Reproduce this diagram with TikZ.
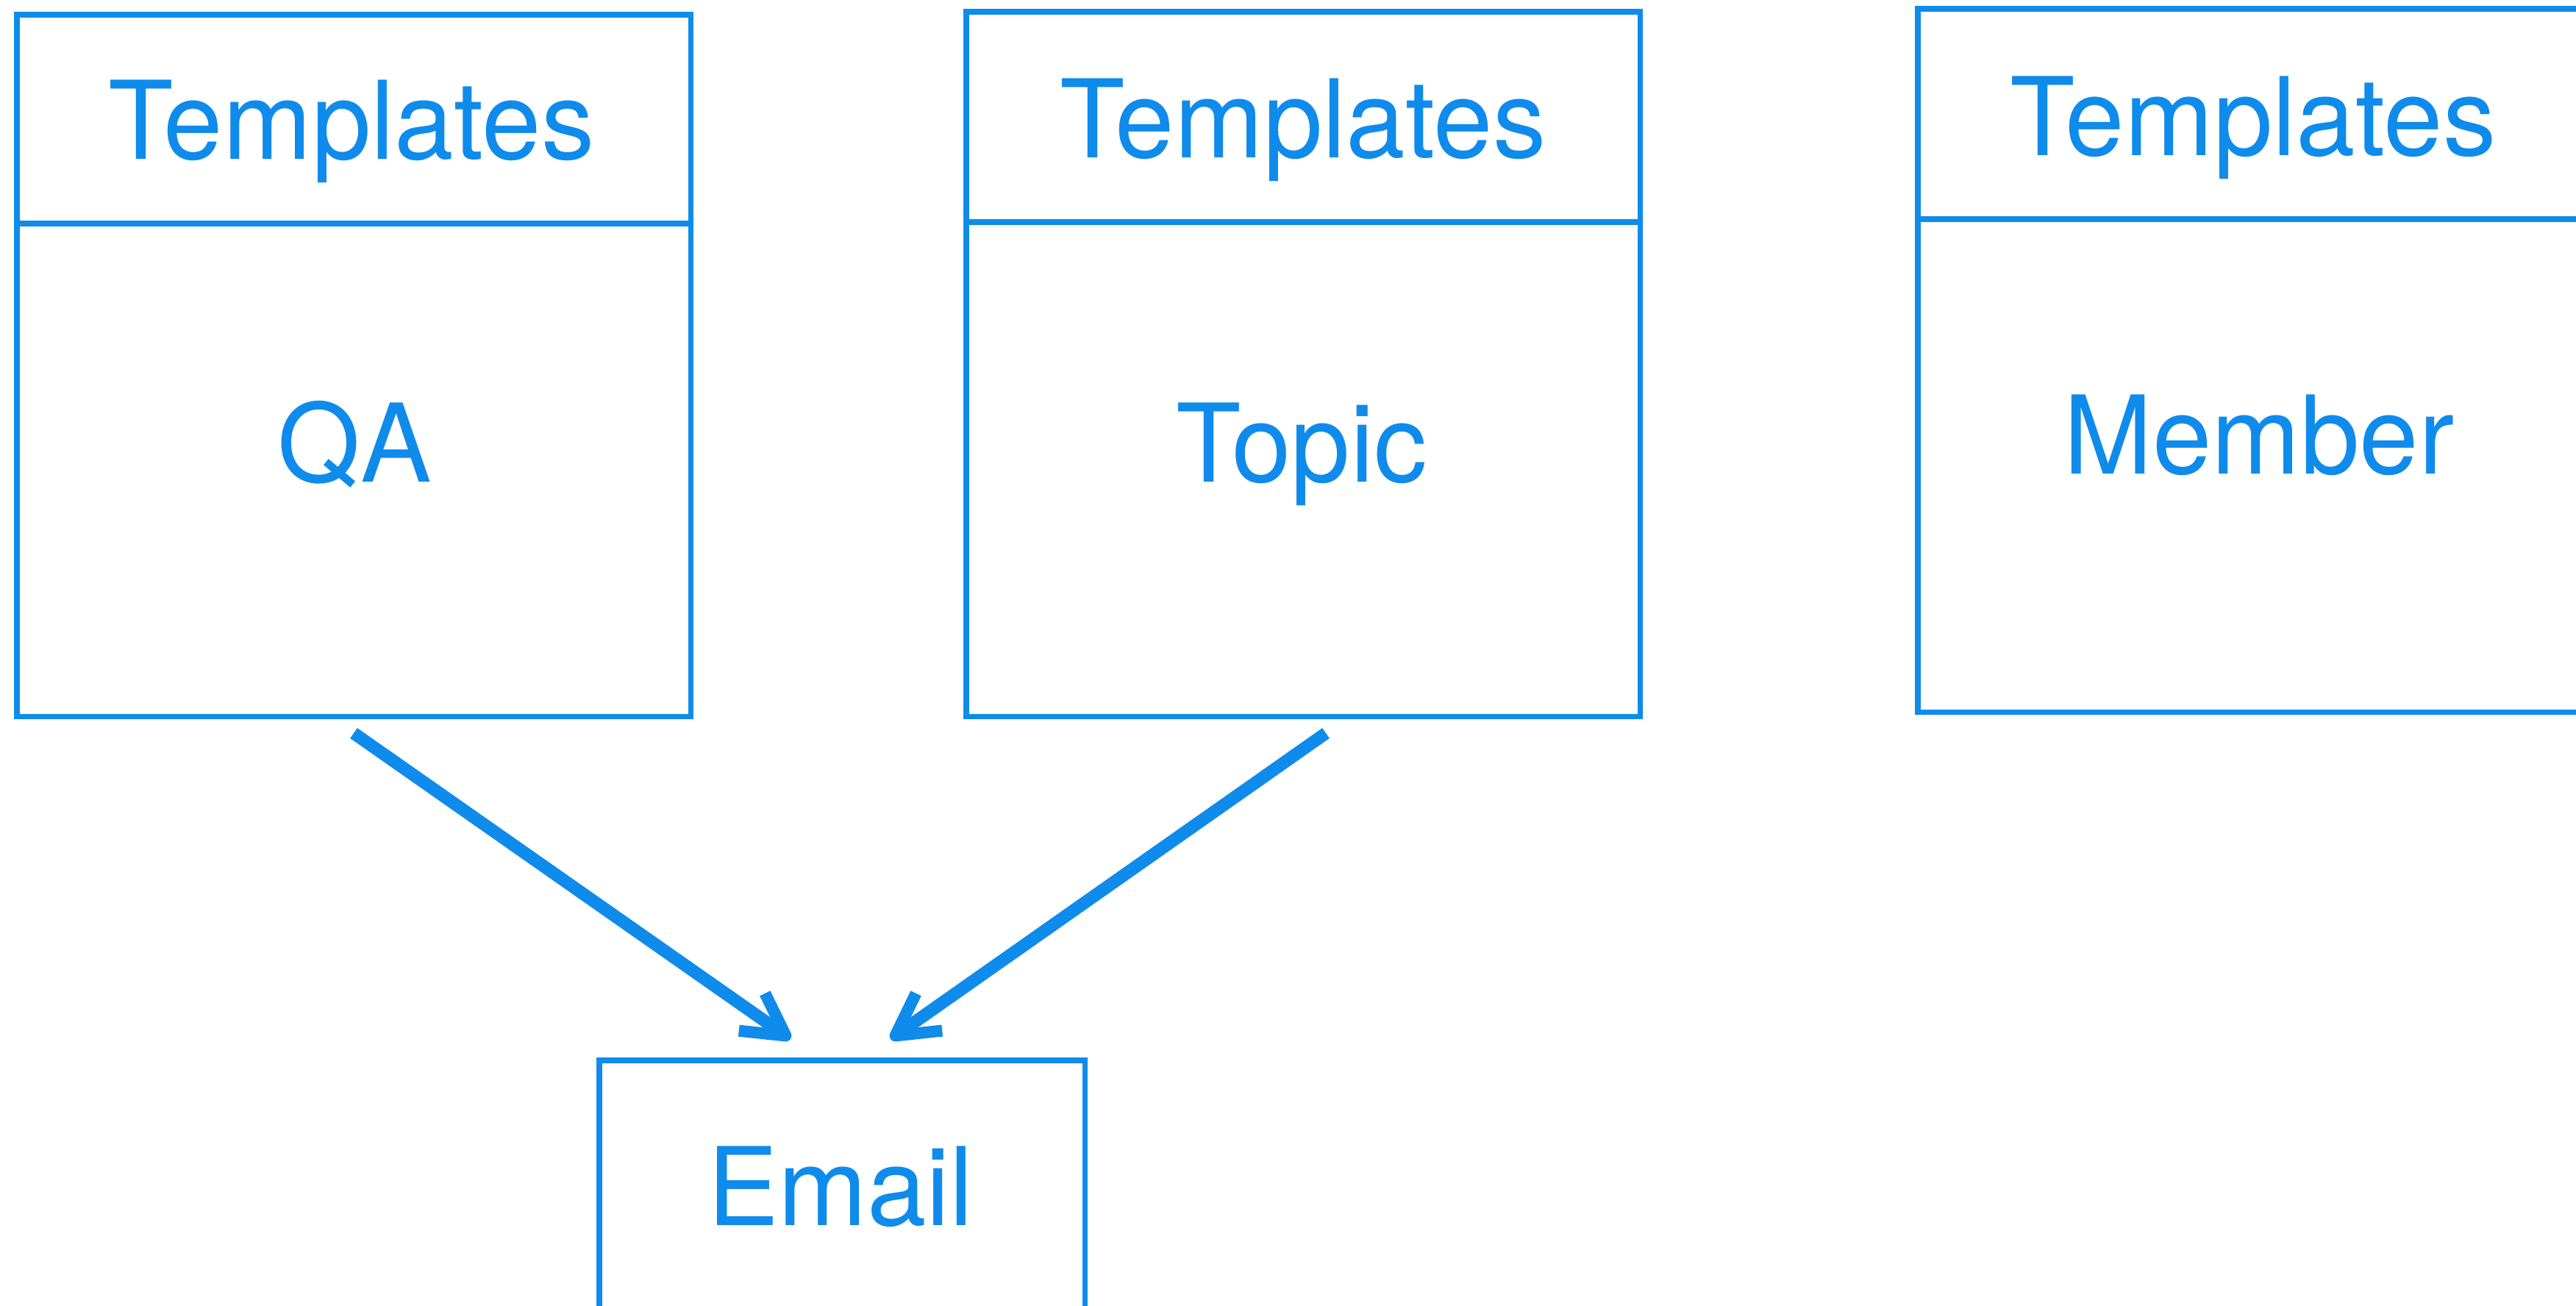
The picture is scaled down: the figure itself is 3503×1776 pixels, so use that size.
\documentclass[tikz,border=0pt]{standalone}
\usepackage{fontspec}
\setmainfont{TeX Gyre Heros}[FakeStretch=0.98]
\usetikzlibrary{arrows.meta}
\definecolor{ablue}{HTML}{0F8BEB}
\begin{document}
\begin{tikzpicture}[x=0.01cm,y=-0.01cm,
  boxpart/.style={draw=ablue, line width=0.075cm, rectangle, inner sep=0pt, outer sep=0pt, anchor=north west, minimum width=9.16cm},
  lbl/.style={text=ablue, font=\fontsize{42}{50}\selectfont, anchor=base, inner sep=0pt},
  conn/.style={draw=ablue, line width=0.17cm, line cap=butt,
    -{Straight Barb[length=0.56cm,width=0.62cm,line width=0.16cm,line cap=butt,line join=round]}}]
\useasboundingbox (0,0) rectangle (3503,1776);
\clip (0,0) rectangle (3503,1776);
% box 1 (QA)
\node[boxpart, minimum height=2.84cm] (qaHead) at (23,20) {};
\node[boxpart, minimum height=6.70cm] (qaBody) at (23,304) {};
\node[lbl] (qaT) at (478,217) {Templates};
\node[lbl] (qaN) at (482,655) {QA};
% box 2 (Topic)
\node[boxpart, minimum height=2.86cm] (tpHead) at (1314,16) {};
\node[boxpart, minimum height=6.72cm] (tpBody) at (1314,302) {};
\node[lbl] (tpT) at (1772,215) {Templates};
\node[lbl] (tpN) at (1770,655) {Topic};
% box 3 (Member)
\node[boxpart, minimum height=2.86cm] (mbHead) at (2608,12) {};
\node[boxpart, minimum height=6.70cm] (mbBody) at (2608,298) {};
\node[lbl] (mbT) at (3064,212) {Templates};
\node[lbl] (mbN) at (3072,644) {Member};
% email box
\node[boxpart, minimum width=6.60cm, minimum height=5.00cm] (email) at (815,1442) {};
\node[lbl] (emN) at (1143,1666) {Email};
% connectors
\coordinate (a1s) at (481,997);
\coordinate (a1e) at (1075,1413);
\coordinate (a2s) at (1803,997);
\coordinate (a2e) at (1211,1413);
\draw[conn] (a1s) -- (a1e);
\draw[conn] (a2s) -- (a2e);
\end{tikzpicture}
\end{document}
